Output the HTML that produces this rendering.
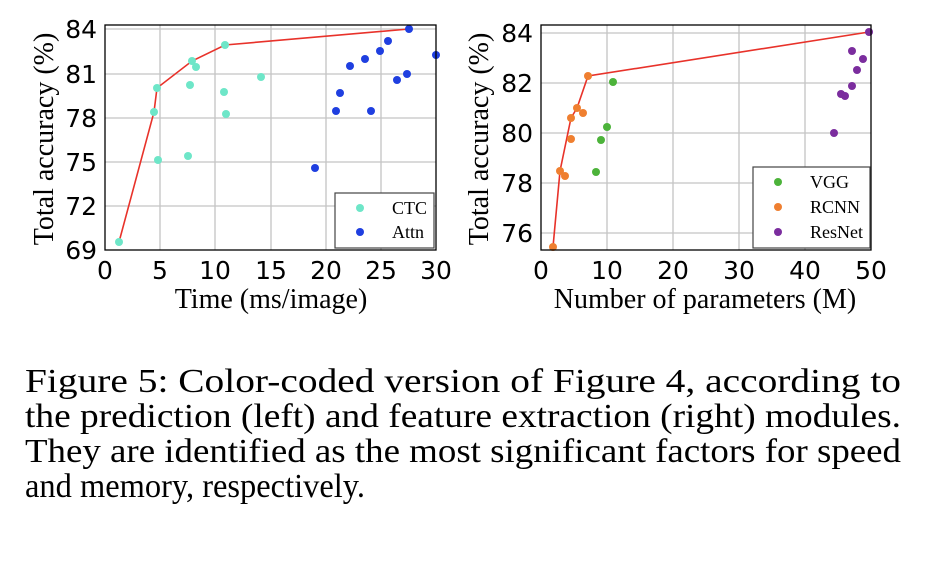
<!DOCTYPE html>
<html><head><meta charset="utf-8"><style>
html,body{margin:0;padding:0;background:#fff;}
svg{display:block;}
.tk{font-family:"DejaVu Sans",sans-serif;font-size:25px;fill:#000;}
.lb{font-family:"Liberation Serif",serif;font-size:28px;fill:#000;}
.lg{font-family:"Liberation Serif",serif;font-size:18px;fill:#000;}
.cap{font-family:"Liberation Serif",serif;font-size:34px;fill:#000;}
.g{stroke:#c4c4c4;stroke-width:1.3;}
</style></head><body>
<svg width="930" height="564" viewBox="0 0 930 564" xmlns="http://www.w3.org/2000/svg">
<!-- LEFT PLOT -->
<g>
<g class="g">
<line x1="160" y1="25" x2="160" y2="250"/><line x1="215" y1="25" x2="215" y2="250"/>
<line x1="271" y1="25" x2="271" y2="250"/><line x1="326" y1="25" x2="326" y2="250"/>
<line x1="381" y1="25" x2="381" y2="250"/>
<line x1="105" y1="29" x2="436" y2="29"/><line x1="105" y1="74" x2="436" y2="74"/>
<line x1="105" y1="118" x2="436" y2="118"/><line x1="105" y1="162" x2="436" y2="162"/>
<line x1="105" y1="206" x2="436" y2="206"/>
</g>
<polyline points="119,242 154,112 157,88 192,61 225,45 409,29" fill="none" stroke="#e8322a" stroke-width="1.6"/>
<g fill="#6ee6c8">
<circle cx="119" cy="242" r="4"/><circle cx="157" cy="88" r="4"/><circle cx="154" cy="112" r="4"/>
<circle cx="158" cy="160" r="4"/><circle cx="190" cy="85" r="4"/><circle cx="192" cy="61" r="4"/>
<circle cx="196" cy="67" r="4"/><circle cx="188" cy="156" r="4"/><circle cx="224" cy="92" r="4"/>
<circle cx="225" cy="45" r="4"/><circle cx="226" cy="114" r="4"/><circle cx="261" cy="77" r="4"/>
</g>
<g fill="#1f3fe0">
<circle cx="315" cy="168" r="4"/><circle cx="336" cy="111" r="4"/><circle cx="340" cy="93" r="4"/>
<circle cx="350" cy="66" r="4"/><circle cx="365" cy="59" r="4"/><circle cx="371" cy="111" r="4"/>
<circle cx="380" cy="51" r="4"/><circle cx="388" cy="41" r="4"/><circle cx="397" cy="80" r="4"/>
<circle cx="407" cy="74" r="4"/><circle cx="409" cy="29" r="4"/><circle cx="436" cy="55" r="4"/>
</g>
<rect x="105" y="25" width="331" height="225" fill="none" stroke="#000" stroke-width="1.3"/>
<rect x="335" y="193" width="99" height="55" fill="#fff" stroke="#444" stroke-width="1.2"/>
<circle cx="360" cy="208" r="4" fill="#6ee6c8"/><circle cx="360" cy="232" r="4" fill="#1f3fe0"/>
<text class="lg" x="392" y="214">CTC</text><text class="lg" x="392" y="238">Attn</text>
<g class="tk" text-anchor="end">
<text x="97" y="38">84</text><text x="97" y="83">81</text><text x="97" y="127">78</text>
<text x="97" y="171">75</text><text x="97" y="215">72</text><text x="97" y="259">69</text>
</g>
<g class="tk" text-anchor="middle">
<text x="105" y="279">0</text><text x="160" y="279">5</text><text x="215" y="279">10</text>
<text x="271" y="279">15</text><text x="326" y="279">20</text><text x="381" y="279">25</text><text x="436" y="279">30</text>
</g>
<text class="lb" x="271" y="308" text-anchor="middle">Time (ms/image)</text>
<text class="lb" transform="translate(53,139) rotate(-90)" text-anchor="middle">Total accuracy (%)</text>
</g>
<!-- RIGHT PLOT -->
<g>
<g class="g">
<line x1="607" y1="25" x2="607" y2="250"/><line x1="673" y1="25" x2="673" y2="250"/>
<line x1="739" y1="25" x2="739" y2="250"/><line x1="805" y1="25" x2="805" y2="250"/>
<line x1="541" y1="33" x2="871" y2="33"/><line x1="541" y1="83" x2="871" y2="83"/>
<line x1="541" y1="133" x2="871" y2="133"/><line x1="541" y1="183" x2="871" y2="183"/>
<line x1="541" y1="233" x2="871" y2="233"/>
</g>
<polyline points="553,247 560,171 571,118 577,108 588,76 869,32" fill="none" stroke="#e8322a" stroke-width="1.6"/>
<g fill="#ef7f30">
<circle cx="553" cy="247" r="4"/><circle cx="560" cy="171" r="4"/><circle cx="565" cy="176" r="4"/>
<circle cx="571" cy="139" r="4"/><circle cx="571" cy="118" r="4"/><circle cx="577" cy="108" r="4"/>
<circle cx="583" cy="113" r="4"/><circle cx="588" cy="76" r="4"/>
</g>
<g fill="#4cb33a">
<circle cx="596" cy="172" r="4"/><circle cx="601" cy="140" r="4"/><circle cx="607" cy="127" r="4"/><circle cx="613" cy="82" r="4"/>
</g>
<g fill="#7b2d9e">
<circle cx="834" cy="133" r="4"/><circle cx="841" cy="94" r="4"/><circle cx="845" cy="96" r="4"/>
<circle cx="852" cy="86" r="4"/><circle cx="852" cy="51" r="4"/><circle cx="857" cy="70" r="4"/>
<circle cx="863" cy="59" r="4"/><circle cx="869" cy="32" r="4"/>
</g>
<rect x="541" y="25" width="330" height="225" fill="none" stroke="#000" stroke-width="1.3"/>
<rect x="753" y="167" width="117" height="81" fill="#fff" stroke="#444" stroke-width="1.2"/>
<circle cx="778" cy="182" r="4" fill="#4cb33a"/><circle cx="778" cy="207" r="4" fill="#ef7f30"/><circle cx="778" cy="232" r="4" fill="#7b2d9e"/>
<text class="lg" x="810" y="188">VGG</text><text class="lg" x="810" y="213">RCNN</text><text class="lg" x="810" y="238">ResNet</text>
<g class="tk" text-anchor="end">
<text x="533" y="42">84</text><text x="533" y="92">82</text><text x="533" y="142">80</text>
<text x="533" y="192">78</text><text x="533" y="242">76</text>
</g>
<g class="tk" text-anchor="middle">
<text x="541" y="279">0</text><text x="607" y="279">10</text><text x="673" y="279">20</text>
<text x="739" y="279">30</text><text x="805" y="279">40</text><text x="871" y="279">50</text>
</g>
<text class="lb" x="705" y="308" text-anchor="middle">Number of parameters (M)</text>
<text class="lb" transform="translate(488,139) rotate(-90)" text-anchor="middle">Total accuracy (%)</text>
</g>
<!-- CAPTION -->
<text class="cap" x="25" y="392" textLength="876" lengthAdjust="spacingAndGlyphs">Figure 5: Color-coded version of Figure 4, according to</text>
<text class="cap" x="25" y="427" textLength="876" lengthAdjust="spacingAndGlyphs">the prediction (left) and feature extraction (right) modules.</text>
<text class="cap" x="25" y="462" textLength="876" lengthAdjust="spacingAndGlyphs">They are identified as the most significant factors for speed</text>
<text class="cap" x="25" y="497" textLength="340" lengthAdjust="spacingAndGlyphs">and memory, respectively.</text>
</svg>
</body></html>
